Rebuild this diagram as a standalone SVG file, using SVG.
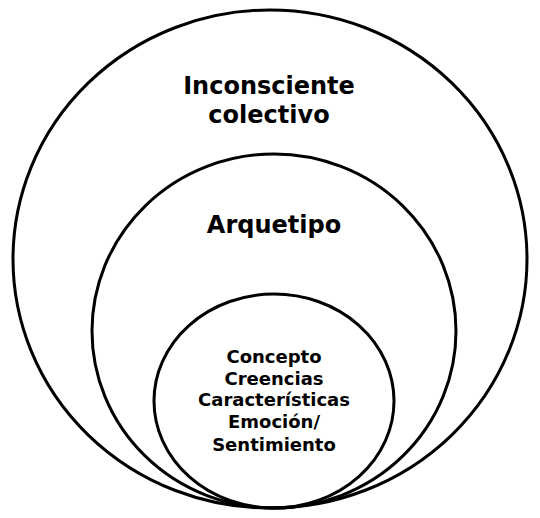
<svg xmlns="http://www.w3.org/2000/svg" width="540" height="518" viewBox="0 0 540 518">
<style>
.ring{fill:none;stroke:#000;stroke-width:3}
.t{font-family:"DejaVu Sans",Verdana,sans-serif;font-weight:bold;fill:#000;text-anchor:middle}
.big{font-size:24px}
.small{font-size:18px}
</style>
<rect width="540" height="518" fill="#fff"/>
<g id="outer">
<ellipse class="ring" cx="270" cy="259" rx="257" ry="249"/>
<text class="t big" x="269" y="94">Inconsciente</text>
<text class="t big" x="269" y="123">colectivo</text>
</g>
<g id="middle">
<ellipse class="ring" cx="274" cy="331" rx="182" ry="177"/>
<text class="t big" x="274" y="233">Arquetipo</text>
</g>
<g id="inner">
<ellipse class="ring" cx="274" cy="401" rx="120" ry="107"/>
<text class="t small" x="274" y="363">Concepto</text>
<text class="t small" x="274" y="385">Creencias</text>
<text class="t small" x="274" y="406">Características</text>
<text class="t small" x="274" y="428">Emoción/</text>
<text class="t small" x="274" y="451">Sentimiento</text>
</g>
<g id="connectors"></g>
</svg>
